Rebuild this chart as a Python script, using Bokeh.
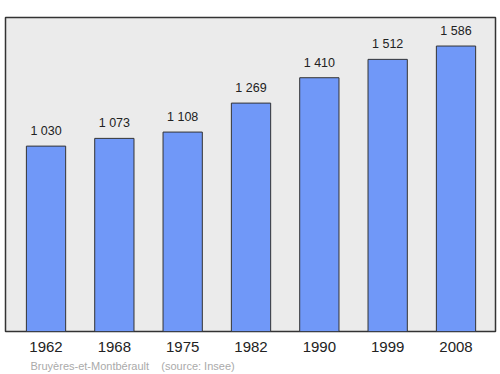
from bokeh.plotting import figure
from bokeh.models import FixedTicker, ColumnDataSource, Range1d, Title
from bokeh.core.properties import value
from bokeh.embed import file_html
from bokeh.resources import INLINE

years = ["1962", "1968", "1975", "1982", "1990", "1999", "2008"]
population = [1030, 1073, 1108, 1269, 1410, 1512, 1586]
labels = ["1 030", "1 073", "1 108", "1 269", "1 410", "1 512", "1 586"]

xs = list(range(len(years)))
src = ColumnDataSource(dict(x=xs, top=population, lab=labels))

p = figure(width=500, height=374, output_backend="svg", toolbar_location=None,
           x_range=Range1d(-0.593, 6.578), y_range=Range1d(0, max(population) * 1.1),
           min_border_left=5, min_border_right=5, min_border_top=17, min_border_bottom=0)
p.background_fill_color = "#ebebeb"
p.border_fill_color = "white"
p.outline_line_color = "#333333"
p.outline_line_width = 1.5
p.grid.visible = False
p.yaxis.visible = False

p.vbar(x="x", top="top", width=0.575, bottom=0, source=src,
       fill_color="#7098f8", line_color="#333333", line_width=1)
p.text(x="x", y="top", text="lab", source=src, text_align="center",
       text_baseline="bottom", y_offset=-8, text_font_size="12.5px",
       text_font=value("Liberation Sans"), text_color="#222222")

ax = p.xaxis[0]
ax.ticker = FixedTicker(ticks=xs)
ax.major_label_overrides = {i: y for i, y in enumerate(years)}
ax.axis_line_color = None
ax.major_tick_line_color = None
ax.minor_tick_line_color = None
ax.major_label_text_font = "Liberation Sans"
ax.major_label_text_font_size = "15px"
ax.major_label_text_color = "#222222"
ax.major_label_standoff = 4

p.add_layout(Title(text="Bruyères-et-Montbérault\u00a0\u00a0\u00a0 (source: Insee)", align="left",
                   text_font="Liberation Sans", text_font_size="11px",
                   text_font_style="normal", text_color="#aaaaaa", offset=25,
                   standoff=6), "below")

open("out.html", "w").write(file_html(p, INLINE))
